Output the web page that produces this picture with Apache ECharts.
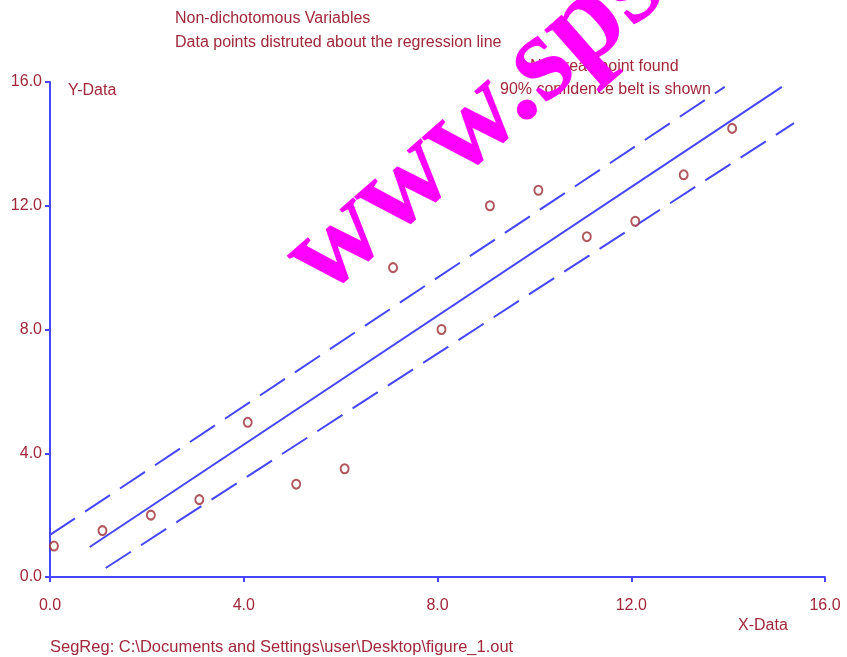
<!DOCTYPE html>
<html>
<head>
<meta charset="utf-8">
<script src="https://cdn.jsdelivr.net/npm/echarts@6/dist/echarts.min.js"></script>
<style>
  html, body { margin: 0; padding: 0; background: #fff; }
  #chart { width: 847px; height: 657px; }
</style>
</head>
<body>
<div id="chart"></div>
<script>
const xData = [0, 1, 2, 3, 4, 5, 6, 7, 8, 9, 10, 11, 12, 13, 14];
const yData = [1.0, 1.5, 2.0, 2.5, 5.0, 3.0, 3.5, 10.0, 8.0, 12.0, 12.5, 11.0, 11.5, 13.0, 14.5];
const regressionLine = [[0.82, 0.97], [15.11, 15.84]];
const upperBelt = [[0, 1.36], [13.93, 15.84]];
const lowerBelt = [[1.15, 0.29], [15.36, 14.67]];
const axisTicks = [0, 4, 8, 12, 16];

const TEXT = "#a0283a";
const BLUE = "#4646ff";
const FONT = "Liberation Sans, Arial, sans-serif";
const SIZE = "16px ";

const chart = echarts.init(document.getElementById("chart"));

function axis(labelMargin) {
  return {
    type: "value",
    min: axisTicks[0],
    max: axisTicks[axisTicks.length - 1],
    interval: axisTicks[1] - axisTicks[0],
    splitLine: { show: false },
    axisLine: { lineStyle: { color: BLUE, width: 2 } },
    axisTick: { show: true, length: 5, lineStyle: { color: BLUE, width: 2 } },
    axisLabel: {
      color: TEXT, fontSize: 16, fontFamily: FONT, margin: labelMargin,
      formatter: v => v.toFixed(1)
    }
  };
}

const beltStyle = { color: BLUE, width: 2, type: [30, 12] };

chart.setOption({
  animation: false,
  backgroundColor: "#fff",
  grid: { left: 50, right: 22, top: 82, bottom: 80 },
  xAxis: axis(21),
  yAxis: axis(8),
  series: [
    {
      type: "line", data: regressionLine, symbol: "none",
      lineStyle: { color: BLUE, width: 2 }, z: 2
    },
    { type: "line", data: upperBelt, symbol: "none", lineStyle: beltStyle, z: 2 },
    { type: "line", data: lowerBelt, symbol: "none", lineStyle: beltStyle, z: 2 },
    {
      type: "scatter",
      data: xData.map((x, i) => [x, yData[i]]),
      symbol: "circle",
      symbolSize: [8, 9],
      symbolOffset: [4, 0],
      itemStyle: { color: "#fff", borderColor: "#9c2c34", borderWidth: 2 },
      z: 3
    }
  ],
  graphic: [
    { type: "text", left: 175, top: 11, style: { text: "Non-dichotomous Variables", fill: TEXT, font: SIZE + FONT } },
    { type: "text", left: 175, top: 35, style: { text: "Data points distruted about the regression line", fill: TEXT, font: SIZE + FONT } },
    { type: "text", left: 530, top: 59, style: { text: "No break point found", fill: TEXT, font: SIZE + FONT } },
    { type: "text", left: 500, top: 82, style: { text: "90% confidence belt is shown", fill: TEXT, font: SIZE + FONT } },
    { type: "text", left: 68, top: 83, style: { text: "Y-Data", fill: TEXT, font: SIZE + FONT } },
    { type: "text", left: 738, top: 618, style: { text: "X-Data", fill: TEXT, font: SIZE + FONT } },
    { type: "text", left: 50, top: 639, style: { text: "SegReg: C:\\Documents and Settings\\user\\Desktop\\figure_1.out", fill: TEXT, font: "16.5px " + FONT } },
    {
      type: "text", x: 262, y: 228, rotation: 0.72, z: 100,
      style: {
        text: "www.sps", fill: "#ff00ff",
        font: "bold 124px Liberation Serif, Times New Roman, serif",
        textAlign: "left", textVerticalAlign: "alphabetic"
      }
    }
  ]
});
</script>
</body>
</html>
